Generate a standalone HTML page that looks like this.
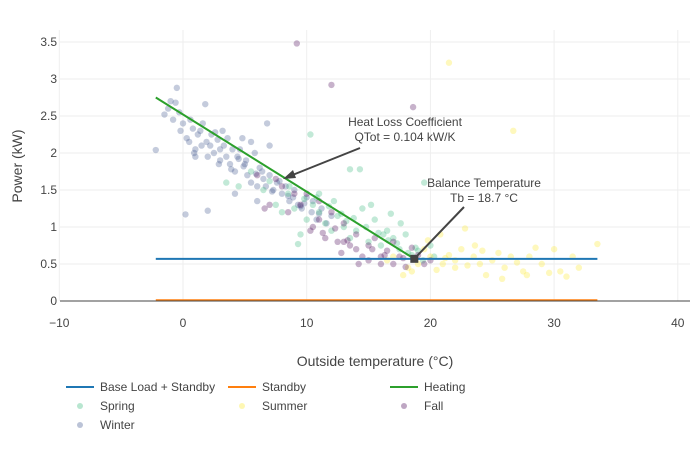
<!DOCTYPE html>
<html><head><meta charset="utf-8"><style>
body{margin:0;background:#fff;font-family:"Liberation Sans",sans-serif}
svg text{font-family:"Liberation Sans",sans-serif;fill:#444}
</style></head><body>
<svg id="chart" width="700" height="450">
<g id="grid"></g>
<g id="pts"></g>
<g id="lines"></g>
<g id="axes"></g>
<g>
<text x="405" y="126" text-anchor="middle" font-size="12">Heat Loss Coefficient</text>
<text x="405" y="141" text-anchor="middle" font-size="12">QTot = 0.104 kW/K</text>
<line x1="360" y1="148" x2="290" y2="176" stroke="#444" stroke-width="2"/>
<polygon points="283,179 293,170 296,178" fill="#444"/>
</g>
<g>
<text x="484" y="187" text-anchor="middle" font-size="12">Balance Temperature</text>
<text x="484" y="202" text-anchor="middle" font-size="12">Tb = 18.7 °C</text>
<line x1="464" y1="207" x2="416" y2="257" stroke="#444" stroke-width="2"/>
</g>
<text x="375" y="366" text-anchor="middle" font-size="14">Outside temperature (°C)</text>
<text transform="translate(22,166) rotate(-90)" text-anchor="middle" font-size="14">Power (kW)</text>
<g font-size="12">
<g><line x1="66" x2="94" y1="387" y2="387" stroke="#1f77b4" stroke-width="2"/><text x="100" y="391">Base Load + Standby</text></g>
<g><line x1="228" x2="256" y1="387" y2="387" stroke="#ff7f0e" stroke-width="2"/><text x="262" y="391">Standby</text></g>
<g><line x1="390" x2="418" y1="387" y2="387" stroke="#2ca02c" stroke-width="2"/><text x="424" y="391">Heating</text></g>
<g><circle cx="80" cy="406" r="3" fill="#35b779" opacity="0.35"/><text x="100" y="410">Spring</text></g>
<g><circle cx="242" cy="406" r="3" fill="#fde725" opacity="0.35"/><text x="262" y="410">Summer</text></g>
<g><circle cx="404" cy="406" r="3" fill="#440154" opacity="0.35"/><text x="424" y="410">Fall</text></g>
<g><circle cx="80" cy="425" r="3" fill="#3b528b" opacity="0.35"/><text x="100" y="429">Winter</text></g>
</g>
</svg>
<script>
const xTicks=[-10,0,10,20,30,40];
const yTicks=[0,0.5,1,1.5,2,2.5,3,3.5];
const winterX=[-2.2,-1.5,-1,-0.8,-0.5,-0.2,0,0.3,0.5,0.8,1,1.2,1.5,1.8,2,2.2,2.5,2.8,3,3.2,3.5,3.8,4,4.2,4.5,4.8,5,5.2,5.5,5.8,6,6.2,6.5,6.8,7,7.3,7.6,8,8.3,8.6,9,9.3,9.6,10,10.4,10.8,11.2,11.6,12,2,4.2,0.2,3,1,5.5,7,6,8.5,9.5,10.5,1.6,2.6,3.6,4.6,-1.2,-0.3,0.6,1.4,2.3,3.3,4.4,5.1,6.4,7.8,8.9,9.8,11,0.9,2.9,3.9,5.9,6.7,-0.6,1.9,4.9,7.2];
const winterY=[2.04,2.52,2.7,2.45,2.88,2.3,2.4,2.2,2.15,2.33,2.05,2.25,2.1,2.66,1.95,2.1,2.0,2.18,1.9,2.3,1.95,1.85,2.05,1.75,1.92,2.2,1.85,1.7,1.6,2.0,1.55,1.8,1.65,2.4,1.7,1.5,1.6,1.45,1.55,1.35,1.5,1.3,1.25,1.4,1.2,1.1,1.25,1.05,1.15,1.22,1.45,1.17,2.05,1.95,2.15,2.1,1.35,1.42,1.28,1.35,2.4,2.28,2.2,2.05,2.6,2.55,2.45,2.3,2.25,2.1,1.95,1.9,1.75,1.62,1.4,1.32,1.18,2.0,1.85,1.78,1.72,1.55,2.68,2.15,1.82,1.48];
const springX=[3.5,4.5,5.5,6.5,7,7.5,8,8.5,9,9.5,10,10.5,11,11.5,12,12.5,13,13.5,14,14.5,15,15.5,16,16.5,17,17.5,18,18.5,19,19.5,20,10.3,13.5,14.3,16.8,19.4,8.6,11,12.2,13.8,15.2,16.2,17.6,18.2,9.3,20.3,10.8,11.8,12.8,14.8,15.8,16.6,17.3,18.8,13.2,9.8];
const springY=[1.6,1.55,1.75,1.5,1.62,1.3,1.2,1.45,1.25,0.9,1.1,1.3,1.2,1.05,0.95,1.15,1.0,0.85,0.95,1.25,0.8,1.1,0.75,0.95,0.85,0.7,0.9,0.62,0.68,1.6,0.75,2.25,1.78,1.78,1.18,0.55,1.55,1.45,1.35,1.12,1.3,0.9,1.05,0.65,0.77,0.6,1.4,1.28,1.18,1.0,0.92,0.82,0.78,0.72,1.08,1.38];
const summerX=[17,17.8,18.5,19,19.5,20,20.5,21,21.5,22,22.5,23,23.5,24,24.5,25,25.5,26,26.5,27,27.5,28,29,30,30.5,31.5,32,33.5,21.5,26.7,22.8,23.6,19.8,20.8,24.2,25.8,27.8,29.6,31,18.2,16.5,21.2,22,28.5];
const summerY=[0.6,0.35,0.4,0.5,0.7,0.6,0.42,0.5,0.62,0.55,0.7,0.48,0.6,0.5,0.35,0.55,0.65,0.45,0.6,0.52,0.4,0.6,0.5,0.7,0.4,0.6,0.45,0.77,3.22,2.3,0.98,0.75,0.82,0.9,0.68,0.3,0.35,0.38,0.33,0.45,0.55,0.58,0.45,0.72];
const fallX=[6,7,7.5,8,9,9.5,10,10.5,11,11.5,12,12.5,13,13.5,14,14.5,15,15.5,16,16.5,17,17.5,18,18.5,19,19.5,20,9.2,12,18.6,8.5,11,13,14,15,16,17,14.2,10.3,12.8,17.8,6.6,11.3,12.3,13.3,15.3,16.3];
const fallY=[1.7,1.3,1.65,1.55,1.45,1.3,1.45,1.0,1.1,0.85,1.2,0.8,1.05,0.75,0.9,0.6,0.75,0.85,0.5,0.68,0.8,0.6,0.46,0.72,0.62,0.5,0.55,3.48,2.92,2.62,1.2,1.35,0.8,0.7,0.55,0.6,0.5,0.5,0.95,0.65,0.58,1.25,0.92,0.98,0.82,0.7,0.62];
const tb=18.7, baseLoad=0.57, standby=0.01, xMinLine=-2.2, xMaxLine=33.5, heatStart=2.75;
const NS='http://www.w3.org/2000/svg';
const X=v=>183+v*12.37, Y=v=>301-v*74;
function mk(t,a,p){const e=document.createElementNS(NS,t);for(const k in a)e.setAttribute(k,a[k]);p.appendChild(e);return e;}
const grid=document.getElementById('grid'),axes=document.getElementById('axes');
xTicks.forEach(t=>{const l=mk('line',{x1:X(t),x2:X(t),y1:30,y2:301,stroke:'#eee'},grid);


const tx=mk('text',{x:X(t),y:327,'text-anchor':'middle','font-size':12},axes);tx.textContent=t<0?'−'+(-t):t;

});
yTicks.forEach(t=>{if(t>0){const l=mk('line',{x1:60,x2:690,y1:Y(t),y2:Y(t),stroke:'#eee'},grid);

}
const tx=mk('text',{x:57,y:Y(t)+4,'text-anchor':'end','font-size':12},axes);tx.textContent=t;

});
const zl=mk('line',{x1:60,x2:690,y1:301,y2:301,stroke:'#444','stroke-width':1},axes);


const pts=document.getElementById('pts');
[[winterX,winterY,'#3b528b','winter'],[springX,springY,'#35b779','spring'],[summerX,summerY,'#fde725','summer'],[fallX,fallY,'#440154','fall']].forEach(([xs,ys,c,n])=>{
xs.forEach((x,i)=>{const p=mk('circle',{cx:X(x),cy:Y(ys[i]),r:3.2,fill:c,opacity:0.3},pts);

});});
const lines=document.getElementById('lines');
let l1=mk('line',{x1:X(xMinLine),x2:X(xMaxLine),y1:Y(baseLoad),y2:Y(baseLoad),stroke:'#1f77b4','stroke-width':2},lines);


let l2=mk('line',{x1:X(xMinLine),x2:X(xMaxLine),y1:Y(standby),y2:Y(standby),stroke:'#ff7f0e','stroke-width':2},lines);


let l3=mk('line',{x1:X(xMinLine),x2:X(tb),y1:Y(heatStart),y2:Y(baseLoad),stroke:'#2ca02c','stroke-width':2},lines);


let m=mk('rect',{x:X(tb)-4,y:Y(baseLoad)-4,width:8,height:8,fill:'#444'},lines);


</script>
</body></html>
